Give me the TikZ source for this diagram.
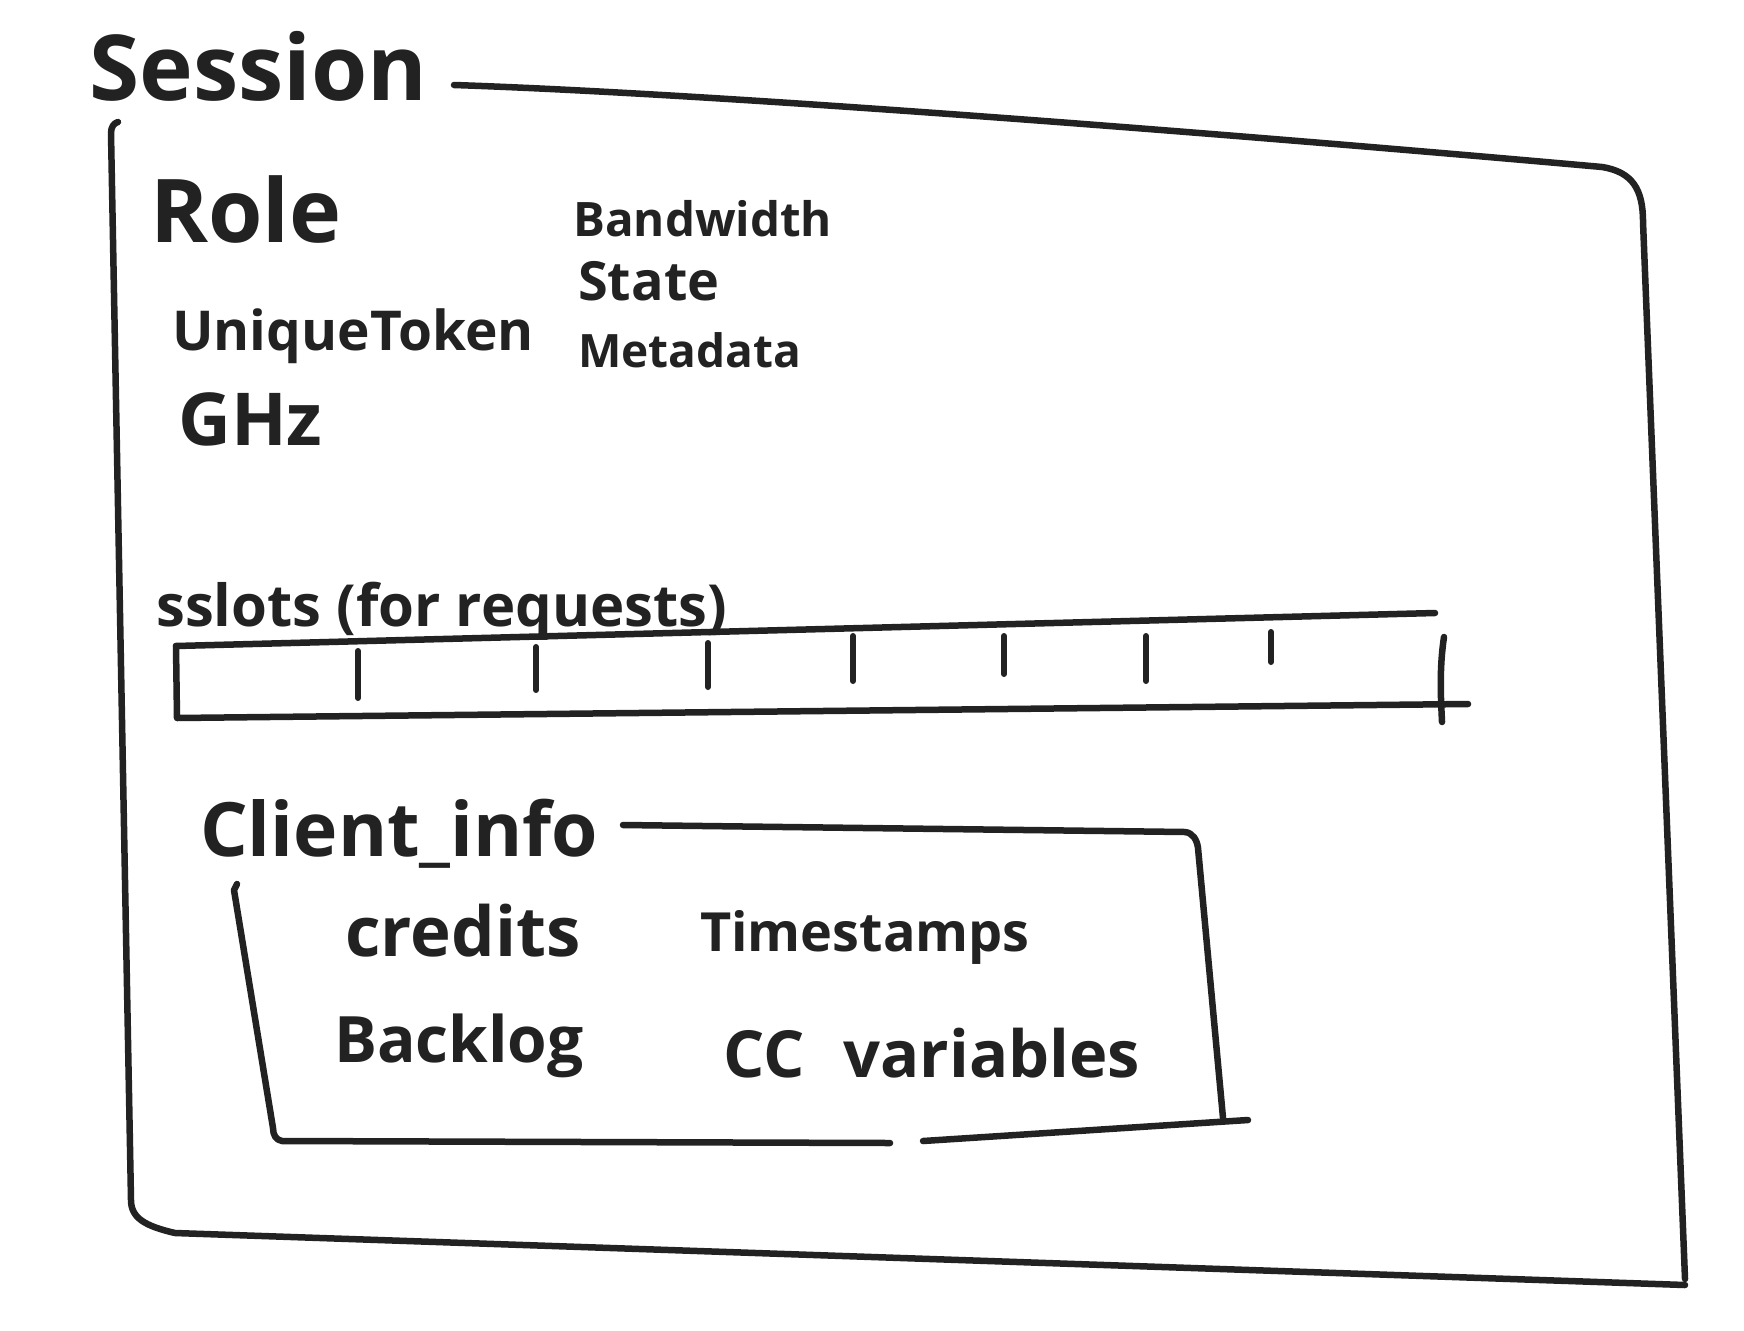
\documentclass[tikz,border=0pt]{standalone}
\usepackage{fontspec}
\setmainfont{Open Sans}
\definecolor{ink}{HTML}{222222}
\begin{document}
\begin{tikzpicture}[x=1pt,y=-1pt,
  pen/.style={draw=ink,line width=6.5pt,line cap=round,line join=round},
  tick/.style={draw=ink,line width=6pt,line cap=round},
  lbl/.style={anchor=base west,inner sep=0pt,text=ink}]
\fill[white] (0,0) rectangle (1744,1330);
\useasboundingbox (0,0) rectangle (1744,1330);

% Session title and frame
\node[lbl,font=\fontsize{91}{96}\selectfont\bfseries] (session) at (89,100) {Session};
\coordinate (s1) at (454,85);
\coordinate (s2) at (1602,167);
\coordinate (s3) at (1643,222);
\coordinate (s4) at (1685,1279);
\coordinate (s5) at (1685,1285);
\coordinate (s6) at (175,1233);
\coordinate (s7) at (131,1200);
\coordinate (s8) at (111,133);
\coordinate (s9) at (118,122);
\draw[pen] (s1) .. controls (750,95) and (1300,140) .. (s2)
  .. controls (1633,172) and (1643,190) .. (s3) -- (s4);
\draw[pen] (s5) -- (s6) .. controls (145,1226) and (131,1218) .. (s7)
  -- (s8) .. controls (111,127) and (114,123) .. (s9);

% Session fields
\node[lbl,font=\fontsize{88}{90}\selectfont\bfseries] (role) at (150,242) {Role};
\node[lbl,font=\fontsize{55}{60}\selectfont\bfseries] (token) at (172,350) {UniqueToken};
\node[lbl,font=\fontsize{73}{78}\selectfont\bfseries] (ghz) at (178,445) {GHz};
\node[lbl,font=\fontsize{47.5}{52}\selectfont\bfseries] (bw) at (573,236) {Bandwidth};
\node[lbl,font=\fontsize{54}{58}\selectfont\bfseries] (state) at (578,300) {State};
\node[lbl,font=\fontsize{46}{50}\selectfont\bfseries] (meta) at (578,367) {Metadata};

% Slots
\node[lbl,font=\fontsize{58}{62}\selectfont\bfseries] (slotslbl) at (156,626) {sslots (for requests)};
\coordinate (b1) at (176,646);
\coordinate (b2) at (1435,613);
\coordinate (b3) at (177,718);
\coordinate (b4) at (1468,704);
\coordinate (b5) at (1444,637);
\coordinate (b6) at (1442,722);
\draw[pen] (b1) -- (b2);
\draw[pen] (b1) -- (b3) -- (b4);
\draw[pen] (b5) .. controls (1439,670) and (1441,700) .. (b6);
\foreach \x/\ya/\yb in {358/651/698, 536/647/690, 708/643/687, 853/636/681, 1004/636/674, 1146/636/681, 1271/632/662}{
  \draw[tick] (\x,\ya) -- (\x,\yb);
}

% Client info
\node[lbl,font=\fontsize{75}{80}\selectfont\bfseries] (client) at (200,856) {Client\_info};
\coordinate (c1) at (623,825);
\coordinate (c2) at (1185,832);
\coordinate (c3) at (1198,848);
\coordinate (c4) at (1223,1118);
\coordinate (c5) at (1248,1120);
\coordinate (c6) at (923,1141);
\coordinate (c7) at (890,1143);
\coordinate (c8) at (282,1141);
\coordinate (c9) at (273,1128);
\coordinate (c10) at (234,890);
\coordinate (c11) at (237,884);
\draw[pen] (c1) -- (c2) .. controls (1193,833) and (1197,840) .. (c3) -- (c4);
\draw[pen] (c5) -- (c6);
\draw[pen] (c7) -- (c8) .. controls (276,1140) and (273,1135) .. (c9) -- (c10) -- (c11);

\node[lbl,font=\fontsize{69}{72}\selectfont\bfseries] (credits) at (345,956) {credits};
\node[lbl,font=\fontsize{54}{58}\selectfont\bfseries] (ts) at (700,951) {Timestamps};
\node[lbl,font=\fontsize{64}{68}\selectfont\bfseries] (backlog) at (334,1062) {Backlog};
\node[lbl,font=\fontsize{65}{68}\selectfont\bfseries] (cc) at (723,1077) {CC\hspace{0.6em}variables};
\end{tikzpicture}
\end{document}
